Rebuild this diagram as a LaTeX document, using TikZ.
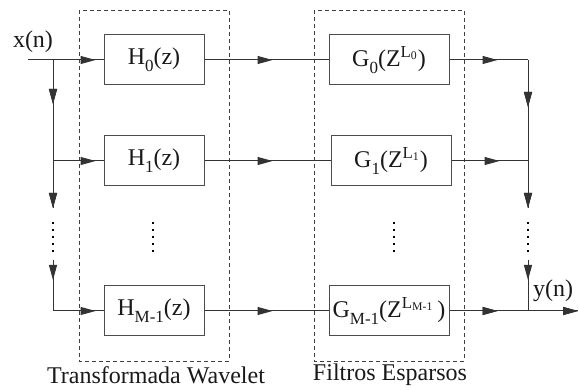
\documentclass[tikz,border=0pt]{standalone}
\usepackage{fontspec}
\setmainfont{Liberation Serif}
\usetikzlibrary{arrows.meta,decorations.markings}
\newcommand{\lowsub}[1]{\raisebox{-0.3em}{\fontsize{17}{20}\selectfont #1}}
\begin{document}
\begin{tikzpicture}[x=1pt,y=-1pt,
  every node/.style={font=\fontsize{24}{28}\selectfont, text=black!90},
  blk/.style={draw=black!70, line width=1pt, minimum width=100pt, minimum height=50pt, inner sep=0pt},
  gblk/.style={draw=black!70, line width=1pt, minimum width=120pt, minimum height=50pt, inner sep=0pt},
  grp/.style={draw=black!75, line width=0.8pt, dash pattern=on 4pt off 3pt},
  wire/.style={draw=black!80, line width=1pt},
  tipat/.style={postaction=decorate, decoration={markings, mark=at position #1 with {\arrow{Triangle[length=15pt,width=8pt]}}}},
  dotline/.style={draw=black, line width=2.2pt, dash pattern=on 2pt off 5pt},
]
\useasboundingbox (0,0) rectangle (579,390);
% group boxes
\draw[grp] (79,10) rectangle (229,361);
\draw[grp] (314,10) rectangle (464,361);
% blocks
\node[blk] (H0) at (154,60) {H\lowsub{0}(z)};
\node[blk] (H1) at (154,161) {H\lowsub{1}(z)};
\node[blk] (HM) at (154,311) {H\lowsub{M-1}(z)};
\node[gblk] (G0) at (389,60) {G\lowsub{0}(Z\textsuperscript{L\textsubscript{0}})};
\node[gblk] (G1) at (391,161) {G\lowsub{1}(Z\textsuperscript{L\textsubscript{1}})};
\node[gblk] (GM) at (389,311) {G\lowsub{M-1}(Z\textsuperscript{L\textsubscript{M-1}}\,)};
% coordinates
\coordinate (in) at (28,60);
\coordinate (L0) at (53,60);
\coordinate (L1) at (53,161);
\coordinate (LM) at (53,311);
\coordinate (Ld1) at (53,208);
\coordinate (Ld2) at (53,260);
\coordinate (R0) at (528,60);
\coordinate (R1) at (528,161);
\coordinate (RM) at (528,311);
\coordinate (Rd1) at (528,208);
\coordinate (Rd2) at (528,260);
\coordinate (out) at (578,311);
% input side
\draw[wire, tipat=-8pt] (in) -- (H0.west);
\draw[wire, tipat=44pt, tipat=1] (L0) -- (Ld1);
\draw[wire, tipat=20pt] (Ld2) -- (LM);
\draw[wire, tipat=-8pt] (L1) -- (H1.west);
\draw[wire, tipat=-8pt] (LM) -- (HM.west);
% middle
\draw[wire, tipat=68pt] (H0.east) -- (G0.west);
\draw[wire, tipat=68pt] (H1.east) -- (G1.west);
\draw[wire, tipat=68pt] (HM.east) -- (GM.west);
% output side
\draw[wire, tipat=48pt] (G0.east) -- (R0);
\draw[wire, tipat=48pt] (G1.east) -- (R1);
\draw[wire, tipat=48pt, tipat=1] (GM.east) -- (out);
\draw[wire, tipat=47pt, tipat=1] (R0) -- (Rd1);
\draw[wire, tipat=20pt] (Rd2) -- (RM);
% dots
\draw[dotline] (53,222) -- (53,254);
\draw[dotline] (153,222) -- (153,254);
\draw[dotline] (394,222) -- (394,254);
\draw[dotline] (528,222) -- (528,254);
% labels
\node (xn) at (33,42) {x(n)};
\node (yn) at (553,291) {y(n)};
\node (tw) at (156,375) {Transformada Wavelet};
\node (fe) at (390,375) {Filtros Esparsos};
\end{tikzpicture}
\end{document}
